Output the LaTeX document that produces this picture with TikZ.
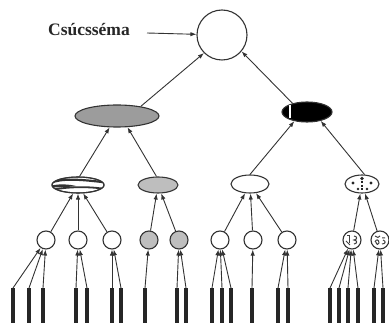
\documentclass[tikz,border=0pt]{standalone}
\usepackage{fontspec}
\setmainfont{Liberation Serif}
\usetikzlibrary{shapes.geometric,arrows.meta}
\definecolor{ln}{HTML}{333333}
\definecolor{gdark}{HTML}{9C9C9C}
\definecolor{glight}{HTML}{BEBEBE}
\begin{document}
\begin{tikzpicture}[x=1pt,y=-1pt,
  arr/.style={draw=ln,line width=0.9pt,-{Latex[length=6pt,width=4.4pt]}},
  ell/.style={ellipse,draw=ln,line width=1.1pt,inner sep=0pt,fill=white},
  circ/.style={circle,draw=ln,line width=1.1pt,inner sep=0pt,minimum size=18pt,fill=white},
  barbox/.style={rectangle,fill=black!85,inner sep=0pt,minimum width=4.5pt,minimum height=35pt,anchor=north},
  blob/.style={fill=black!85},
]
\useasboundingbox (0,0) rectangle (389,323);

% top
\node[circle,draw=ln,line width=1.1pt,minimum size=50pt,inner sep=0pt] (top) at (222,35) {};
\node[font=\fontsize{17.5}{18}\selectfont\bfseries,inner sep=0pt,text=black!85] (lbl) at (89,30) {Csúcsséma};
\coordinate (lblend) at (147,33);
\draw[arr] (lblend) -- (top);

% level 2
\node[ell,fill=gdark,minimum width=84pt,minimum height=22pt] (A) at (117,116) {};
\node[ell,fill=black,minimum width=50pt,minimum height=20pt] (B) at (307,112) {};
\draw[white,line width=1.2pt] (290,105.5) -- (290,118.5);
\draw[arr] (A.22) -- (top.225);
\draw[arr] (B.149) -- (top.320);

% level 3
\node[ell,minimum width=52pt,minimum height=16pt] (S) at (78,185) {};
\begin{scope}
  \clip (78,185) ellipse [x radius=26,y radius=8];
  \draw[black!80,line width=2.2pt] (50,183) .. controls (62,178) and (80,179.5) .. (102,182);
  \draw[black!80,line width=1.8pt] (54,189.5) .. controls (70,186.5) and (90,186.5) .. (105,189);
  \fill[black!80] (52,185.5) .. controls (60,183.5) and (70,184.5) .. (76,186) .. controls (70,187) and (60,187.5) .. (52,187.5) -- cycle;
\end{scope}
\draw[ln,line width=1.1pt] (78,185) ellipse [x radius=26,y radius=8];
\node[ell,fill=glight,minimum width=40pt,minimum height=16pt] (G) at (158,185) {};
\node[ell,minimum width=38pt,minimum height=18pt] (W) at (250,184) {};
\node[ell,minimum width=34pt,minimum height=18pt] (D) at (362,184) {};
\fill[blob] (362,178.5) circle (1.8);
\fill[blob] (353,183) circle (1.6);
\fill[blob] (371,183) circle (1.6);
\fill[blob] (358,189) circle (1.4);
\fill[blob] (367,189) circle (1.4);
\draw[black!85,line width=1.2pt,dash pattern=on 2pt off 1.5pt] (362,181.5) -- (362,191);

\draw[arr] (S.80) -- (A.-123);
\draw[arr] (G.100) -- (A.-47);
\draw[arr] (W.90) -- (B.-144);
\draw[arr] (D.75) -- (B.-33);

% level 4
\node[circ] (c1) at (46,240) {};
\node[circ] (c2) at (78,240) {};
\node[circ] (c3) at (112,240) {};
\node[circ,fill=glight] (c4) at (149,240) {};
\node[circ,fill=glight] (c5) at (179,240) {};
\node[circ] (c6) at (220,240) {};
\node[circ] (c7) at (253,240) {};
\node[circ] (c8) at (287,240) {};
\node[circ] (c9) at (352,240) {};
\node[circ] (c10) at (380,240) {};
% patterns in c9, c10
\begin{scope}[black!75,line width=1pt]
\draw (347,236) -- (350,236) (349,236) -- (349,243);
\draw (354,236) .. controls (357.5,236) and (357.5,240) .. (354,240) .. controls (357.5,240) and (357.5,244) .. (354,244);
\draw (346,241) -- (350,245);
\draw (375,236) .. controls (377,238) and (379,238) .. (380,236);
\draw (375,242) .. controls (376,239) and (379,239) .. (379,243) .. controls (379,245) and (376,245) .. (376,242);
\draw (382,238) -- (385,238) (383,240) .. controls (386,241) and (386,244) .. (382,244);
\end{scope}

\draw[arr] (c1) -- (S);
\draw[arr] (c2) -- (S);
\draw[arr] (c3) -- (S);
\draw[arr] (c4) -- (G);
\draw[arr] (c5) -- (G);
\draw[arr] (c6) -- (W);
\draw[arr] (c7) -- (W);
\draw[arr] (c8) -- (W);
\draw[arr] (c9) -- (D);
\draw[arr] (c10) -- (D);

% bars
\foreach \x/\c [count=\i] in {13/c1,29/c1,43/c1,76/c2,87/c2,112/c3,121/c3,145/c4,177/c5,186/c5,212/c6,222/c6,231/c6,252/c7,278/c8,288/c8,330/c9,339/c9,348/c9,358/c9,374/c10,383/c10}{
  \node[barbox] (b\i) at (\x,288) {};
  \draw[arr] (b\i.north) -- (\c);
}
\end{tikzpicture}
\end{document}
